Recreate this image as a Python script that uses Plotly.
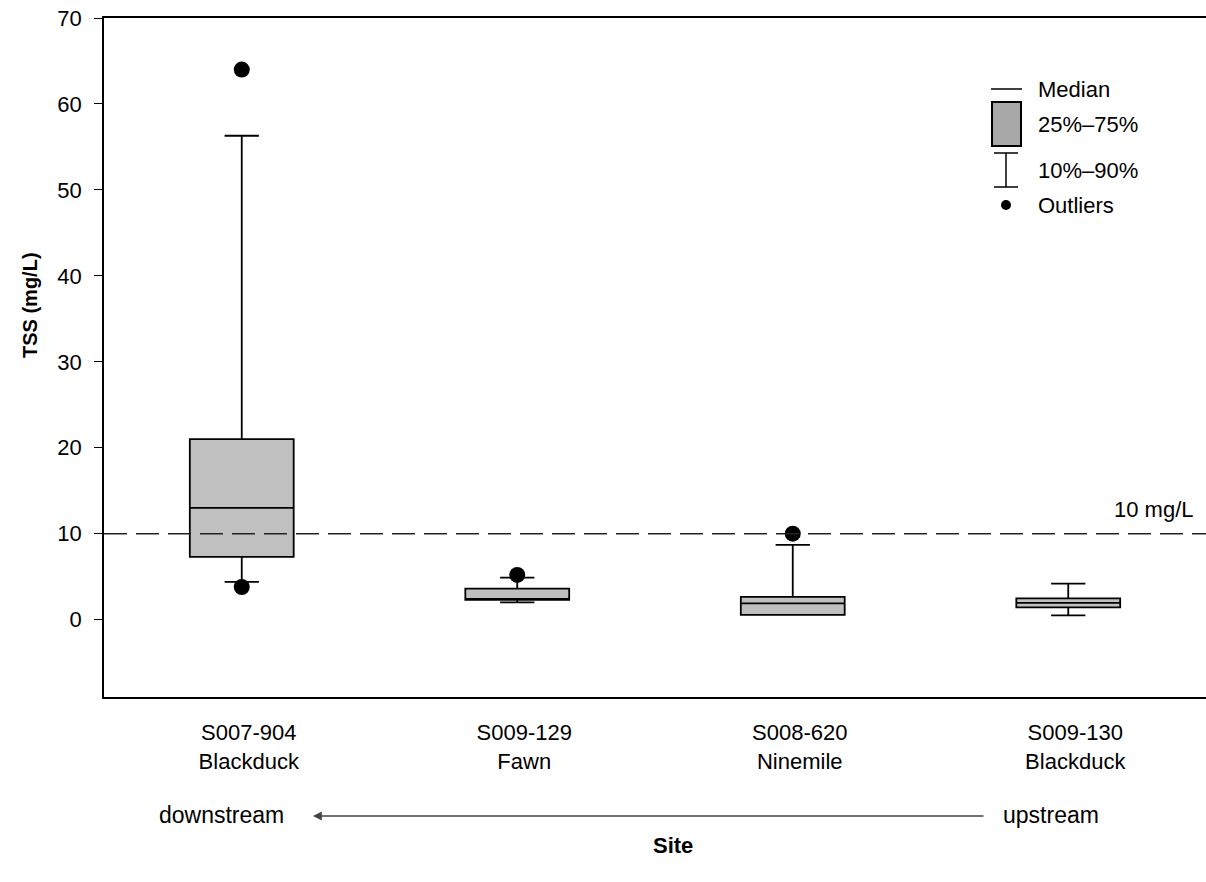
import plotly.graph_objects as go

# ---- data ----
sites = ["S007-904<br>Blackduck", "S009-129<br>Fawn", "S008-620<br>Ninemile", "S009-130<br>Blackduck"]
p10 = [4.4, 2.0, 0.55, 0.5]
q1 = [7.3, 2.3, 0.55, 1.43]
median = [13.0, 2.4, 1.9, 1.94]
q3 = [21.0, 3.6, 2.64, 2.48]
p90 = [56.3, 4.9, 8.7, 4.2]
outlier_site = [0, 0, 1, 2]
outlier_val = [64.0, 3.8, 5.2, 10.0]
threshold = 10
threshold_label = "10 mg/L"
y_ticks = [0, 10, 20, 30, 40, 50, 60, 70]

# ---- layout geometry (pixels) ----
L, R, T, B = 104, 1206, 18, 697
W, H = R - L, B - T


def xp(px):
    return (px - L) / W


def yp(py):
    return (B - py) / H


FONT = "Liberation Sans, Arial, sans-serif"
FS = 22
xpos = list(range(len(sites)))

fig = go.Figure()

fig.add_trace(go.Box(
    x=xpos, q1=q1, median=median, q3=q3,
    lowerfence=p10, upperfence=p90,
    width=0.377, whiskerwidth=0.33,
    fillcolor="#c0c0c0", line=dict(color="black", width=1.8),
    boxpoints=False, showlegend=False, hoverinfo="skip",
))

fig.add_trace(go.Scatter(
    x=outlier_site, y=outlier_val, mode="markers",
    marker=dict(color="black", size=16),
    showlegend=False, hoverinfo="skip",
))

# threshold dashed line
fig.add_shape(type="line", xref="paper", x0=0, x1=1, yref="y", y0=threshold, y1=threshold,
              line=dict(color="#222", width=1.4, dash="23px,9px"), layer="above")
fig.add_annotation(xref="paper", x=xp(1196), xanchor="right", yref="y", y=threshold,
                   yanchor="bottom", yshift=10, text=threshold_label, showarrow=False,
                   font=dict(family=FONT, size=FS, color="black"))

# ---- key (legend) ----
fig.add_shape(type="line", xref="paper", yref="paper", x0=xp(991), x1=xp(1022), y0=yp(89), y1=yp(89),
              line=dict(color="black", width=1.5))
fig.add_shape(type="rect", xref="paper", yref="paper", x0=xp(992), x1=xp(1021), y0=yp(102), y1=yp(146),
              fillcolor="#a8a8a8", line=dict(color="black", width=2))
fig.add_shape(type="line", xref="paper", yref="paper", x0=xp(1006), x1=xp(1006), y0=yp(153), y1=yp(187),
              line=dict(color="black", width=1.5))
fig.add_shape(type="line", xref="paper", yref="paper", x0=xp(994), x1=xp(1018), y0=yp(153), y1=yp(153),
              line=dict(color="black", width=1.5))
fig.add_shape(type="line", xref="paper", yref="paper", x0=xp(994), x1=xp(1018), y0=yp(187), y1=yp(187),
              line=dict(color="black", width=1.5))
fig.add_shape(type="circle", xref="paper", yref="paper", x0=xp(1001), x1=xp(1011), y0=yp(200), y1=yp(210),
              fillcolor="black", line=dict(color="black", width=0))
for label, py in [("Median", 90), ("25%–75%", 124), ("10%–90%", 170), ("Outliers", 205)]:
    fig.add_annotation(xref="paper", yref="paper", x=xp(1036), y=yp(py), xanchor="left", yanchor="middle",
                       text=label, showarrow=False, font=dict(family=FONT, size=FS, color="black"))

# ---- downstream / upstream arrow ----
fig.add_annotation(xref="paper", yref="paper", x=xp(313), y=yp(816), ax=985 - 313, ay=0,
                   text="", showarrow=True, arrowhead=2, arrowsize=1.1, arrowwidth=1.6, arrowcolor="#444")
fig.add_annotation(xref="paper", yref="paper", x=xp(221), y=yp(815), text="downstream", showarrow=False,
                   xanchor="center", yanchor="middle", font=dict(family=FONT, size=23, color="black"))
fig.add_annotation(xref="paper", yref="paper", x=xp(1051), y=yp(815), text="upstream", showarrow=False,
                   xanchor="center", yanchor="middle", font=dict(family=FONT, size=23, color="black"))

# axis titles
fig.add_annotation(xref="paper", yref="paper", x=xp(673), y=yp(845), text="<b>Site</b>", showarrow=False,
                   xanchor="center", yanchor="middle", font=dict(family=FONT, size=FS, color="black"))
fig.add_annotation(xref="paper", yref="paper", x=xp(30), y=yp(305), text="<b>TSS (mg/L)</b>", showarrow=False,
                   textangle=-90, xanchor="center", yanchor="middle", font=dict(family=FONT, size=20, color="black"))

fig.update_layout(
    width=1206, height=882,
    margin=dict(l=L, r=1206 - R, t=T, b=882 - B),
    paper_bgcolor="white", plot_bgcolor="white",
    font=dict(family=FONT, size=FS, color="black"),
    showlegend=False,
    xaxis=dict(range=[-0.5, 3.5], tickvals=xpos, ticktext=sites, showgrid=False, zeroline=False,
               showline=True, linecolor="black", linewidth=1.5, mirror=True, ticks="",
               tickfont=dict(size=22),
               ticklabelshift=7, ticklabelstandoff=15, fixedrange=True),
    yaxis=dict(range=[-9, 70], tickvals=y_ticks, showgrid=False, zeroline=False,
               showline=True, linecolor="black", linewidth=1.5, mirror=False,
               ticks="outside", ticklen=8, tickwidth=1.3, tickcolor="black",
               ticklabelstandoff=8, fixedrange=True),
)

fig.write_html("out.html", config={"displayModeBar": False},
               post_script="document.body.style.margin='0px';document.body.style.overflow='hidden';")
